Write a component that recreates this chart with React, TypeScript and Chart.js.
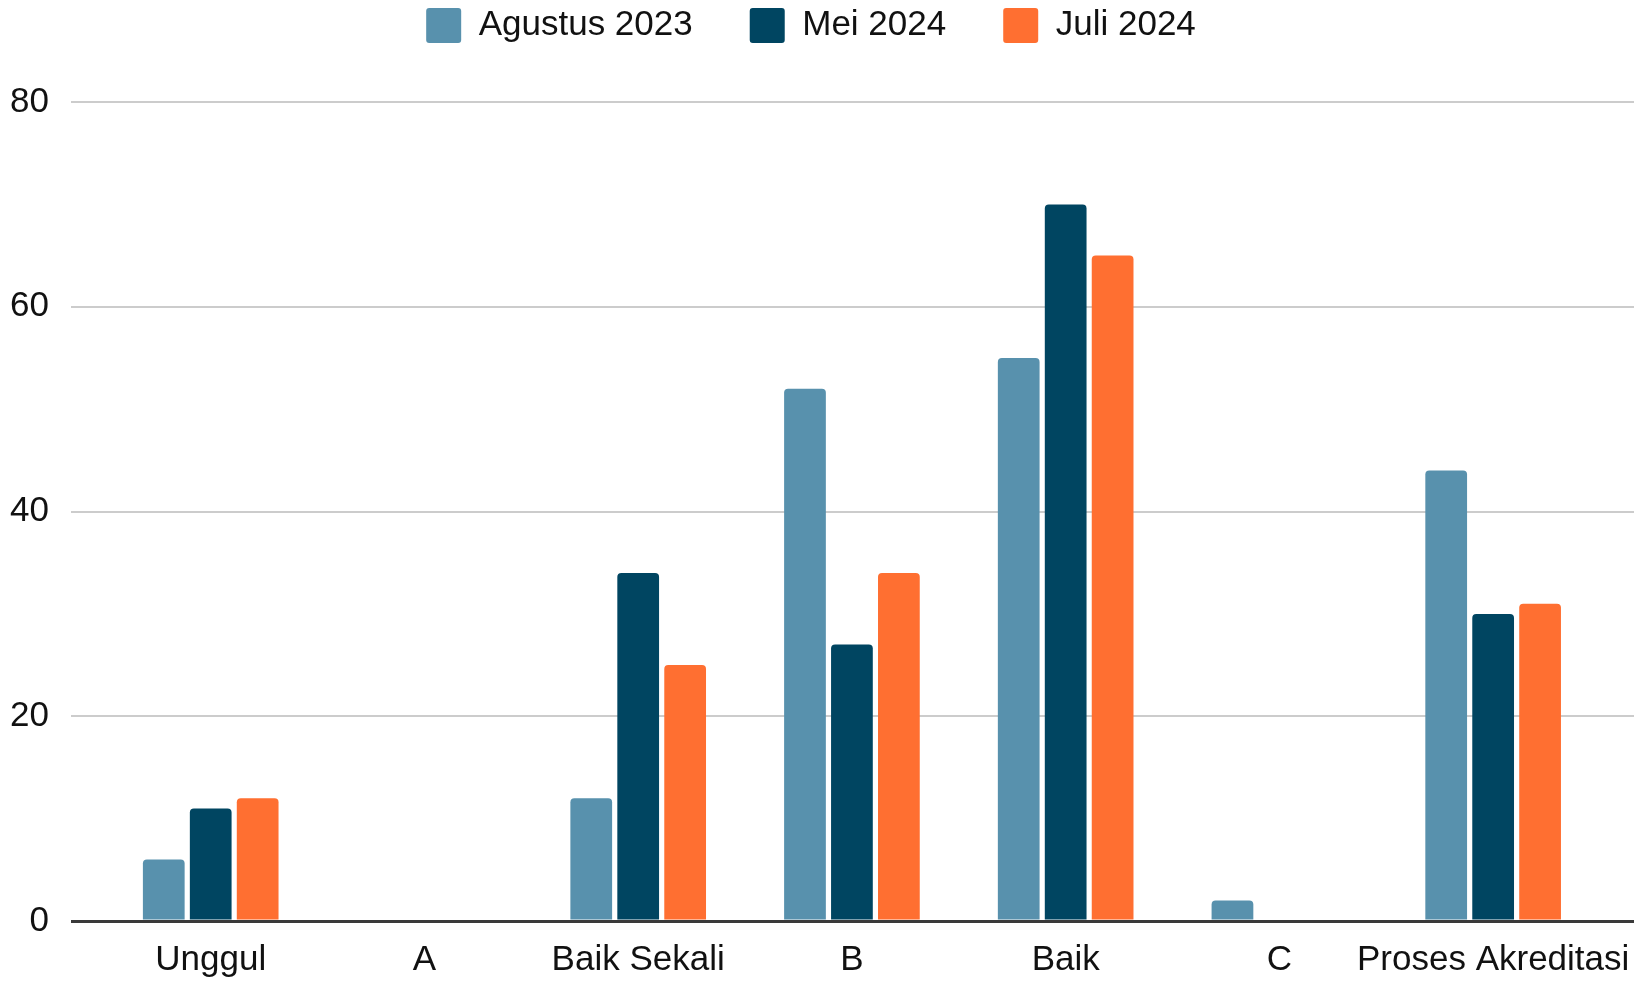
import { useEffect, useRef } from 'react';
import { Chart, registerables } from 'chart.js';

Chart.register(...registerables);

const categories = ['Unggul', 'A', 'Baik Sekali', 'B', 'Baik', 'C', 'Proses Akreditasi'];
const agustus2023 = [6, 0, 12, 52, 55, 2, 44];
const mei2024 = [11, 0, 34, 27, 70, 0, 30];
const juli2024 = [12, 0, 25, 34, 65, 0, 31];
const seriesNames = ['Agustus 2023', 'Mei 2024', 'Juli 2024'];
const seriesColors = ['#5891ad', '#004561', '#ff6f31'];
const yTicks = [0, 20, 40, 60, 80];

const FONT = '"Liberation Sans", Arial, sans-serif';
const FONT_SIZE = 35;
const LEGEND_PAD = 57;
const TEXT_COLOR = '#111111';

const legendSpace = {
  id: 'legendSpace',
  beforeLayout(chart: any) {
    const lg = chart.legend;
    if (lg && !lg._spacePatched) {
      const orig = lg.fit;
      lg.fit = function (this: any) {
        orig.call(this);
        this.height += 49;
      };
      lg._spacePatched = true;
    }
  },
};

export default function App() {
  const ref = useRef<HTMLCanvasElement | null>(null);

  useEffect(() => {
    if (!ref.current) return;
    const series = [agustus2023, mei2024, juli2024];
    const chart = new Chart(ref.current, {
      type: 'bar',
      data: {
        datasets: series.map((vals, si) => ({
          label: seriesNames[si],
          data: vals.map((v, i) => ({ x: i + 1, y: v })),
          backgroundColor: seriesColors[si],
          borderWidth: 0,
          borderRadius: 4,
          borderSkipped: 'start',
          categoryPercentage: 0.659,
          barPercentage: 0.889,
        })),
      },
      plugins: [legendSpace],
      options: {
        animation: false,
        responsive: true,
        maintainAspectRatio: false,
        layout: { padding: { left: -12, right: 0, top: 8 - LEGEND_PAD, bottom: -17 } },
        plugins: {
          tooltip: { enabled: false },
          legend: {
            position: 'top',
            labels: {
              boxWidth: 35,
              boxHeight: 35,
              padding: LEGEND_PAD,
              color: TEXT_COLOR,
              useBorderRadius: true,
              borderRadius: 3,
              font: { family: FONT, size: FONT_SIZE },
            },
          },
        },
        scales: {
          x: {
            type: 'linear',
            min: 0.346,
            max: 7.659,
            offset: false,
            grid: { display: false, drawTicks: false },
            border: { display: false },
            afterBuildTicks: (axis: any) => {
              axis.ticks = categories.map((_, i) => ({ value: i + 1 }));
            },
            afterFit: (axis: any) => {
              axis.paddingLeft = 0;
              axis.paddingRight = 0;
            },
            ticks: {
              autoSkip: false,
              maxRotation: 0,
              padding: 18,
              color: TEXT_COLOR,
              font: { family: FONT, size: FONT_SIZE },
              callback: (v: any) => categories[Number(v) - 1] ?? '',
            },
          },
          y: {
            min: 0,
            max: 80,
            afterBuildTicks: (axis: any) => {
              axis.ticks = yTicks.map((v) => ({ value: v }));
            },
            grid: {
              drawTicks: false,
              color: (ctx: any) => (ctx.tick && ctx.tick.value === 0 ? '#3a3a3a' : '#cccccc'),
              lineWidth: (ctx: any) => (ctx.tick && ctx.tick.value === 0 ? 3 : 2),
            },
            border: { display: false },
            ticks: {
              padding: 22,
              color: TEXT_COLOR,
              font: { family: FONT, size: FONT_SIZE },
            },
          },
        },
      },
    } as any);
    return () => chart.destroy();
  }, []);

  return (
    <div style={{ position: 'fixed', left: 0, top: 0, width: 1634, height: 982, background: '#fff' }}>
      <canvas ref={ref} />
    </div>
  );
}
